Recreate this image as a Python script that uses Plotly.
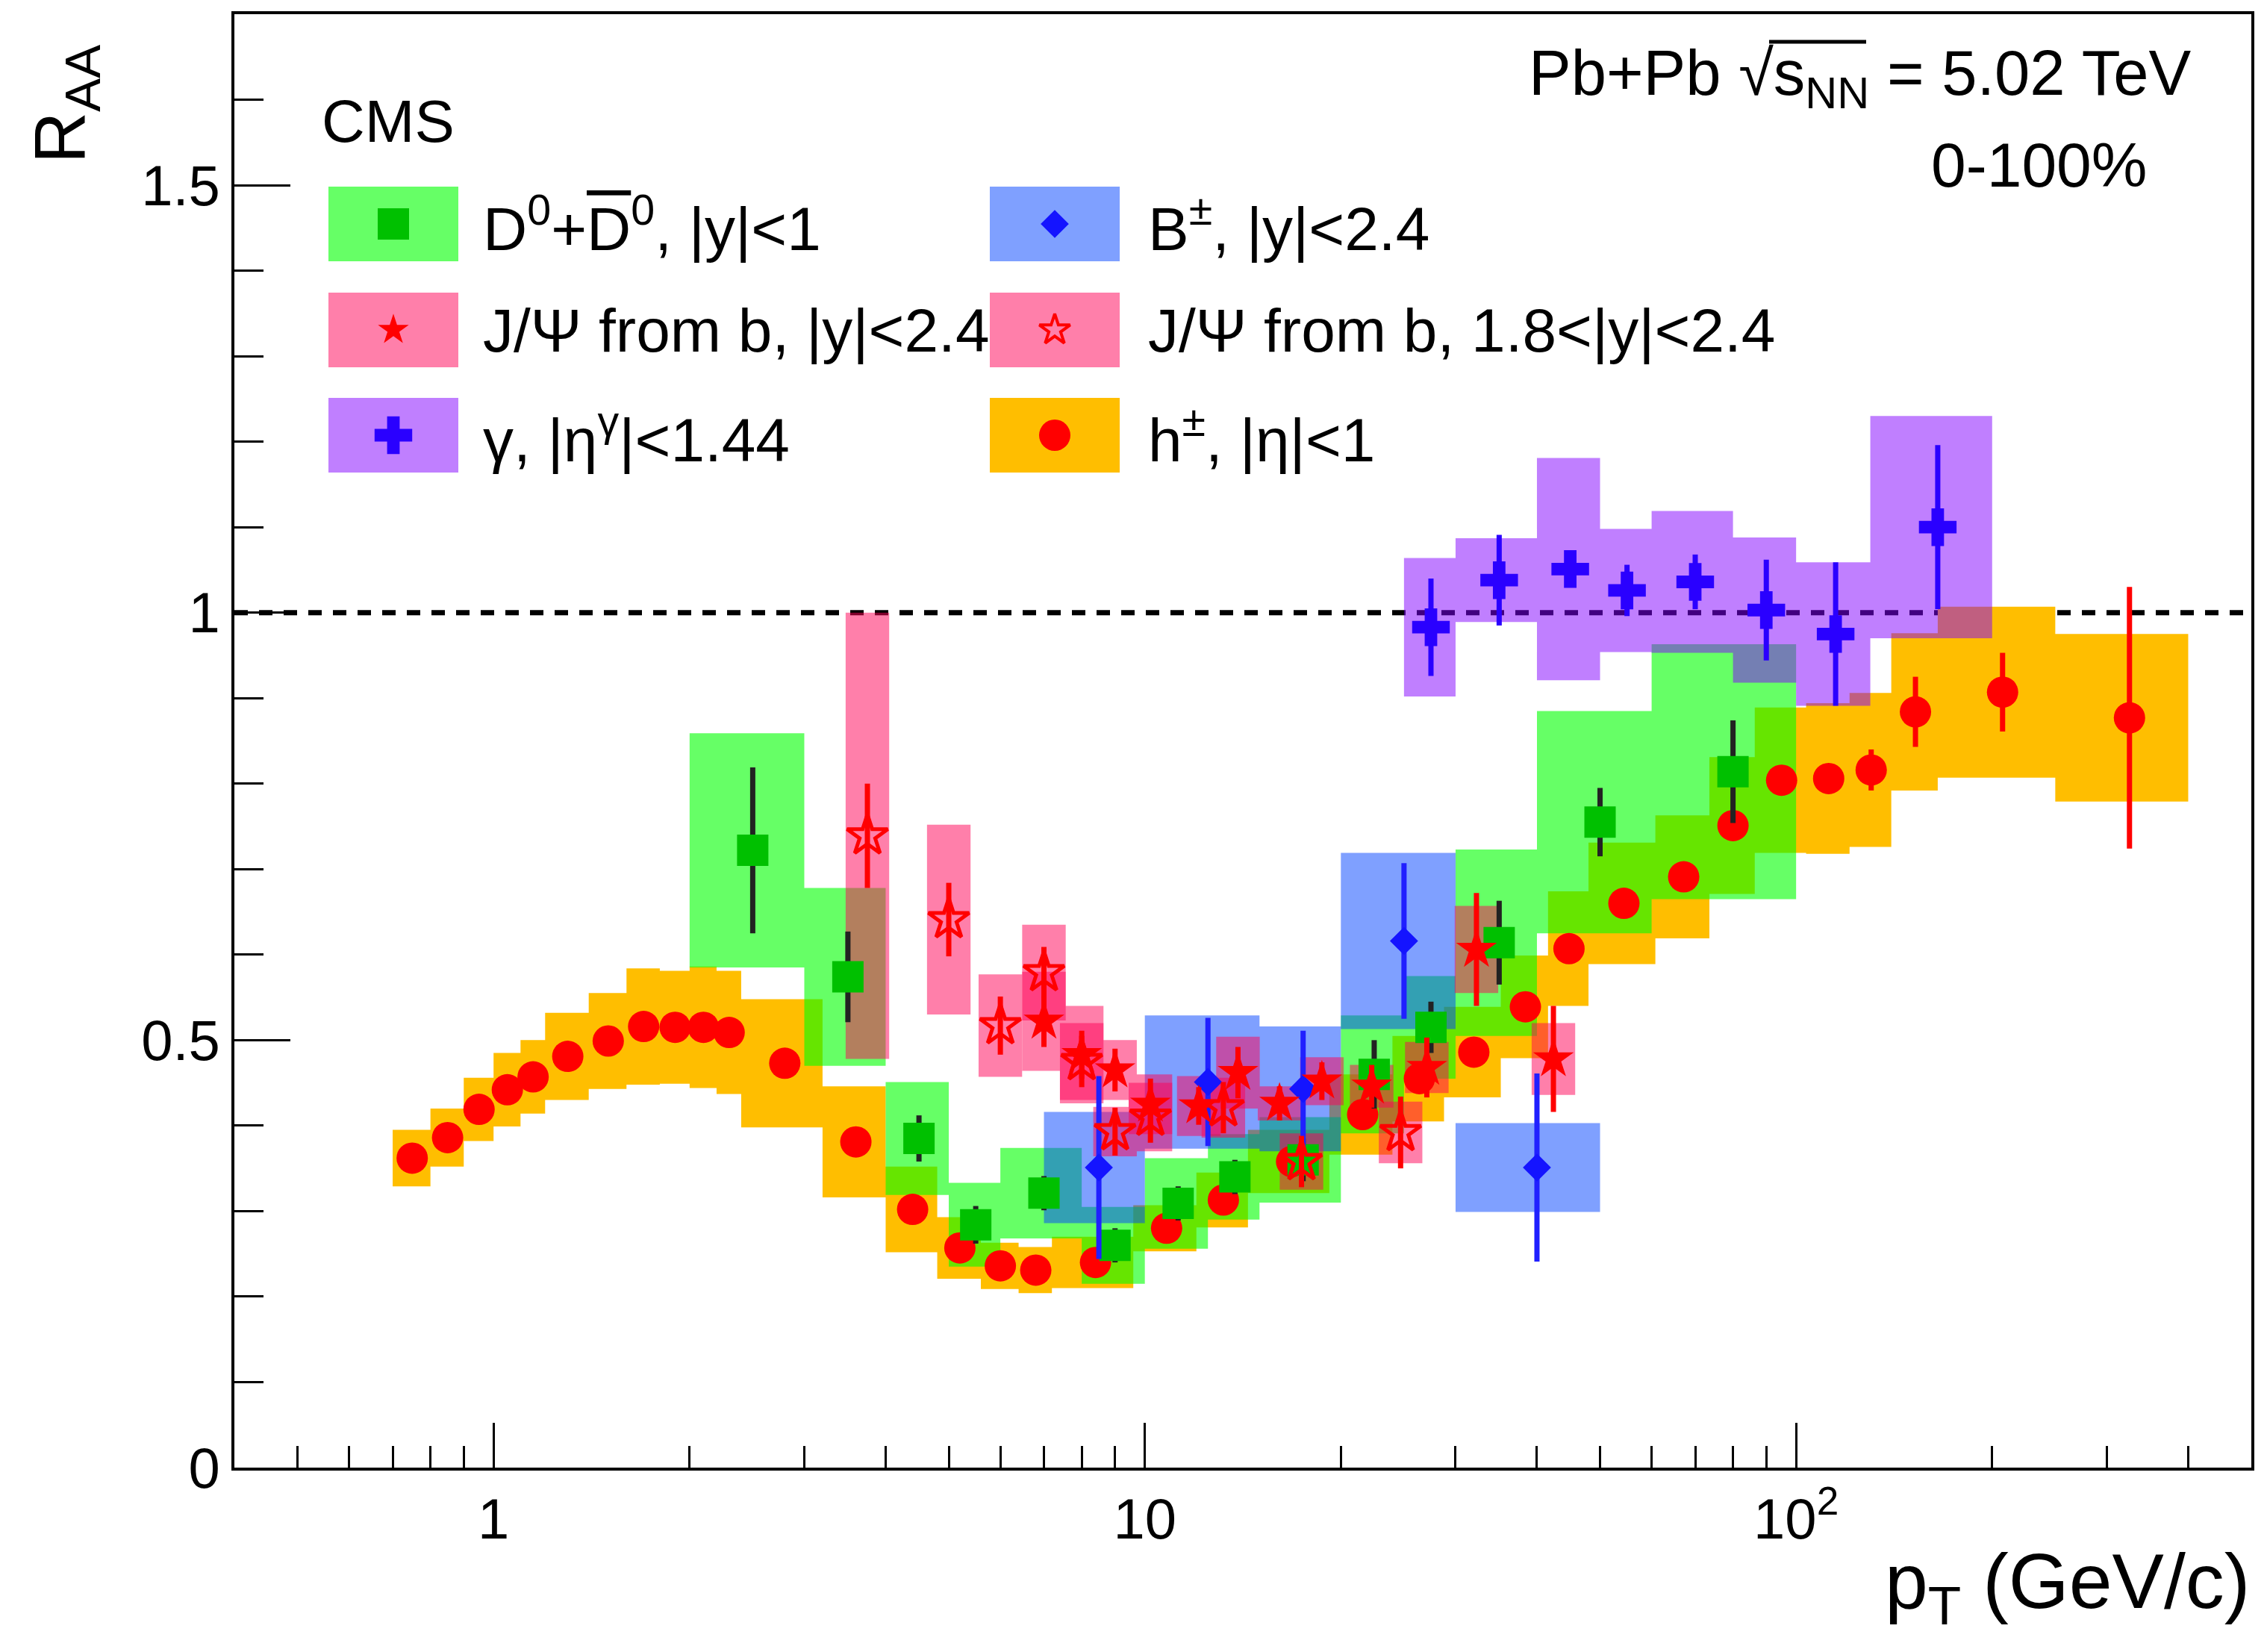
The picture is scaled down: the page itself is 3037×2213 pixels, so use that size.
import math
import plotly.graph_objects as go

# ---------------- data ----------------
# charged hadrons h+-, |eta|<1
h_edges = [0.7, 0.8, 0.9, 1.0, 1.1, 1.2, 1.4, 1.6, 1.8, 2.0, 2.2, 2.4, 3.2, 4.0, 4.8, 5.6, 6.4, 7.2,
           9.6, 12.0, 14.4, 19.2, 24.0, 28.8, 35.2, 41.6, 48.0, 60.8, 73.6, 86.4, 103.6, 120.8,
           140.0, 165.0, 250.0, 400.0]
h_pt = [0.75, 0.85, 0.95, 1.05, 1.15, 1.3, 1.5, 1.7, 1.9, 2.1, 2.3, 2.8, 3.6, 4.4, 5.2, 6.0, 6.8,
        8.4, 10.8, 13.2, 16.8, 21.6, 26.4, 32.0, 38.4, 44.8, 54.4, 67.2, 80.0, 95.0, 112.2, 130.4,
        152.5, 207.5, 325.0]
h_raa = [0.362, 0.386, 0.419, 0.442, 0.457, 0.481, 0.499, 0.516, 0.515, 0.515, 0.509, 0.473,
         0.381, 0.302, 0.257, 0.236, 0.231, 0.240, 0.280, 0.313, 0.358, 0.413, 0.455, 0.486,
         0.539, 0.607, 0.660, 0.691, 0.751, 0.804, 0.806, 0.816, 0.884, 0.907, 0.877]
h_stat = [0.002, 0.002, 0.002, 0.002, 0.002, 0.002, 0.002, 0.002, 0.002, 0.002, 0.002, 0.002,
          0.002, 0.002, 0.002, 0.002, 0.002, 0.003, 0.003, 0.003, 0.004, 0.005, 0.006, 0.007,
          0.008, 0.010, 0.010, 0.012, 0.013, 0.013, 0.015, 0.024, 0.041, 0.046, 0.153]
h_syst = [0.033, 0.034, 0.037, 0.043, 0.043, 0.051, 0.056, 0.068, 0.066, 0.071, 0.072, 0.075,
          0.065, 0.050, 0.036, 0.027, 0.027, 0.030, 0.027, 0.032, 0.037, 0.047, 0.050, 0.053,
          0.060, 0.067, 0.071, 0.072, 0.080, 0.085, 0.088, 0.090, 0.092, 0.100, 0.098]

# D0 + D0bar, |y|<1
d0_edges = [2, 3, 4, 5, 6, 8, 10, 12.5, 15, 20, 25, 30, 40, 60, 100]
d0_pt = [2.5, 3.5, 4.5, 5.5, 7.0, 9.0, 11.25, 13.75, 17.5, 22.5, 27.5, 35, 50, 80]
d0_raa = [0.722, 0.574, 0.385, 0.284, 0.321, 0.260, 0.309, 0.340, 0.360, 0.460, 0.515, 0.614,
          0.755, 0.814]
d0_stat = [0.097, 0.053, 0.027, 0.022, 0.020, 0.020, 0.020, 0.020, 0.025, 0.040, 0.030, 0.049,
           0.040, 0.060]
d0_syst = [0.137, 0.104, 0.066, 0.049, 0.053, 0.045, 0.053, 0.050, 0.050, 0.069, 0.060, 0.109,
           0.130, 0.149]

# B+-, |y|<2.4
b_edges = [7, 10, 15, 20, 30, 50]
b_pt = [8.5, 12.5, 17.5, 25, 40]
b_raa = [0.351, 0.451, 0.443, 0.616, 0.351]
b_stat = [0.107, 0.075, 0.068, 0.091, 0.110]
b_syst = [0.065, 0.078, 0.073, 0.103, 0.052]

# nonprompt J/psi, |y|<2.4
jb_pt = [7.0, 8.0, 9.0, 10.2, 12.1, 13.9, 16.1, 18.7, 22.3, 27.1, 32.3, 42.4]
jb_raa = [0.522, 0.483, 0.465, 0.425, 0.423, 0.462, 0.426, 0.452, 0.446, 0.468, 0.606, 0.478]
jb_stat = [0.030, 0.028, 0.025, 0.030, 0.022, 0.030, 0.020, 0.022, 0.025, 0.035, 0.066, 0.062]
jb_syst = [0.058, 0.057, 0.035, 0.035, 0.035, 0.042, 0.020, 0.028, 0.025, 0.030, 0.051, 0.042]

# nonprompt J/psi, 1.8<|y|<2.4
jf_pt = [3.75, 5.0, 6.0, 7.0, 8.0, 9.0, 10.2, 13.2, 17.4, 24.7]
jf_raa = [0.739, 0.641, 0.517, 0.579, 0.475, 0.393, 0.410, 0.421, 0.358, 0.392]
jf_stat = [0.061, 0.043, 0.034, 0.030, 0.030, 0.028, 0.030, 0.030, 0.030, 0.042]
jf_syst = [0.261, 0.111, 0.060, 0.056, 0.045, 0.029, 0.040, 0.035, 0.033, 0.036]

# isolated photons, |eta|<1.44
g_edges = [25, 30, 40, 50, 60, 80, 100, 130, 200]
g_pt = [27.5, 35, 45, 55, 70, 90, 115, 165]
g_raa = [0.983, 1.038, 1.051, 1.026, 1.036, 1.003, 0.975, 1.100]
g_stat = [0.057, 0.053, 0.020, 0.030, 0.032, 0.059, 0.084, 0.096]
g_syst = [0.081, 0.049, 0.130, 0.072, 0.083, 0.085, 0.084, 0.130]

# ---------------- style ----------------
FONT = "Liberation Sans, Arial, Helvetica, sans-serif"
W, H = 3037, 2213
L, R, T, B = 314, 21, 19, 247          # plot-area margins (px)
X_RANGE = (0.4, 500.0)
Y_RANGE = (0.0, 1.7)
JPSI_BOX_FACTOR = 1.08                  # J/psi syst boxes span pt/f .. pt*f
ERR_W = 7

C_ORANGE = "#FFBE00"
C_GREEN = "rgba(0,255,0,0.6)"
C_BLUE = "rgba(0,65,255,0.5)"
C_PINK = "rgba(255,0,85,0.5)"
C_PURPLE = "rgba(130,0,255,0.5)"

M_H = dict(symbol="circle", size=42, color="#FF0000")
M_D0 = dict(symbol="square", size=42, color="#00C000")
M_B = dict(symbol="diamond", size=29, color="#1414FF")
M_JB = dict(symbol="star", size=41, color="#FF0000")
M_JF = dict(symbol="star-open", size=41, color="#FF0000", line=dict(width=5, color="#FF0000"))
M_G = dict(symbol="cross", size=42, color="#2A00FF")


def box_path(lo, hi, centers, half):
    xs, ys = [], []
    for x0, x1, c, h in zip(lo, hi, centers, half):
        xs += [x0, x1, x1, x0, x0, None]
        ys += [c - h, c - h, c + h, c + h, c - h, None]
    return xs, ys


def syst_trace(lo, hi, centers, half, color):
    xs, ys = box_path(lo, hi, centers, half)
    return go.Scatter(x=xs, y=ys, mode="none", fill="toself", fillcolor=color,
                      hoverinfo="skip")


def point_trace(pt, raa, stat, marker, ecolor):
    return go.Scatter(x=pt, y=raa, mode="markers", marker=marker,
                      error_y=dict(type="data", array=stat, color=ecolor,
                                   thickness=ERR_W, width=0))


fig = go.Figure()

# systematic boxes
fig.add_trace(syst_trace(h_edges[:-1], h_edges[1:], h_raa, h_syst, C_ORANGE))
fig.add_trace(syst_trace(d0_edges[:-1], d0_edges[1:], d0_raa, d0_syst, C_GREEN))
fig.add_trace(syst_trace(b_edges[:-1], b_edges[1:], b_raa, b_syst, C_BLUE))
fig.add_trace(syst_trace([p / JPSI_BOX_FACTOR for p in jb_pt], [p * JPSI_BOX_FACTOR for p in jb_pt],
                         jb_raa, jb_syst, C_PINK))
fig.add_trace(syst_trace([p / JPSI_BOX_FACTOR for p in jf_pt], [p * JPSI_BOX_FACTOR for p in jf_pt],
                         jf_raa, jf_syst, C_PINK))
fig.add_trace(syst_trace(g_edges[:-1], g_edges[1:], g_raa, g_syst, C_PURPLE))

# points with statistical errors
fig.add_trace(point_trace(h_pt, h_raa, h_stat, M_H, "#FF0000"))
fig.add_trace(point_trace(d0_pt, d0_raa, d0_stat, M_D0, "#222222"))
fig.add_trace(point_trace(b_pt, b_raa, b_stat, M_B, "#2020FF"))
fig.add_trace(point_trace(jb_pt, jb_raa, jb_stat, M_JB, "#FF0000"))
fig.add_trace(point_trace(jf_pt, jf_raa, jf_stat, M_JF, "#FF0000"))
fig.add_trace(point_trace(g_pt, g_raa, g_stat, M_G, "#2A00FF"))

# ---------------- legend (drawn on a pixel-space overlay) ----------------
LEG_COL_X = [527, 1413]
LEG_ROW_Y = [300, 442, 583]
LEG_TEXT_X = [645, 1536]
LEG_HALF_W, LEG_HALF_H = 87, 50
legend_entries = [
    (0, 0, C_GREEN, M_D0, "D<sup>0</sup>+<span style='text-decoration:overline'>D</span><sup>0</sup>, |y|<1"),
    (1, 0, C_BLUE, M_B, "B<sup>±</sup>, |y|<2.4"),
    (0, 1, C_PINK, dict(M_JB, size=31), "J/Ψ from b, |y|<2.4"),
    (1, 1, C_PINK, dict(M_JF, size=31, line=dict(width=4, color="#FF0000")), "J/Ψ from b, 1.8<|y|<2.4"),
    (0, 2, C_PURPLE, M_G, "γ, |η<sup>γ</sup>|<1.44"),
    (1, 2, C_ORANGE, M_H, "h<sup>±</sup>, |η|<1"),
]


def paper(px, py):
    return (px - L) / (W - L - R), (H - B - py) / (H - T - B)


annotations = []
for col, row, fc, mk, label in legend_entries:
    cx, cy = LEG_COL_X[col], LEG_ROW_Y[row]
    fig.add_trace(go.Scatter(
        x=[cx - LEG_HALF_W, cx + LEG_HALF_W, cx + LEG_HALF_W, cx - LEG_HALF_W, cx - LEG_HALF_W],
        y=[cy - LEG_HALF_H, cy - LEG_HALF_H, cy + LEG_HALF_H, cy + LEG_HALF_H, cy - LEG_HALF_H],
        mode="none", fill="toself", fillcolor=fc, xaxis="x2", yaxis="y2", hoverinfo="skip"))
    fig.add_trace(go.Scatter(x=[cx], y=[cy], mode="markers", marker=mk,
                             xaxis="x2", yaxis="y2", hoverinfo="skip"))
    ax, ay = paper(LEG_TEXT_X[col], cy)
    annotations.append(dict(x=ax, y=ay, xref="paper", yref="paper", text=label,
                            showarrow=False, xanchor="left", yanchor="middle",
                            font=dict(size=82, family=FONT, color="black")))


def add_text(px, py, text, size, xanchor="left", yanchor="middle", angle=0):
    ax, ay = paper(px, py)
    annotations.append(dict(x=ax, y=ay, xref="paper", yref="paper", text=text,
                            showarrow=False, xanchor=xanchor, yanchor=yanchor,
                            textangle=angle, font=dict(size=size, family=FONT, color="black")))


add_text(429, 163, "CMS", 80)
add_text(2937, 104, "Pb+Pb √s<sub>NN</sub> = 5.02 TeV", 85, xanchor="right")
add_text(2879, 221, "0-100%", 84, xanchor="right")
add_text(88, 140, "R<sub>AA</sub>", 96, xanchor="center", angle=-90)
add_text(3016, 2125, "p<sub>T</sub> (GeV/c)", 104, xanchor="right")

sx0, sy = paper(2370, 56)
sx1, _ = paper(2500, 56)
shapes = [
    dict(type="line", xref="paper", yref="y", x0=0, x1=1, y0=1, y1=1, layer="below",
         line=dict(color="black", width=7, dash="18px,15px")),
    dict(type="line", xref="paper", yref="paper", x0=sx0, x1=sx1, y0=sy, y1=sy,
         line=dict(color="black", width=5)),
]

x_minor = [0.5, 0.6, 0.7, 0.8, 0.9, 2, 3, 4, 5, 6, 7, 8, 9, 20, 30, 40, 50, 60, 70, 80, 90,
           200, 300, 400]
TICK_FONT = dict(size=76, family=FONT, color="black")

fig.update_layout(
    width=W, height=H, autosize=False,
    margin=dict(l=L, r=R, t=T, b=B, pad=0),
    paper_bgcolor="white", plot_bgcolor="rgba(0,0,0,0)",
    showlegend=False,
    font=dict(family=FONT, color="black"),
    xaxis=dict(type="log", range=[math.log10(X_RANGE[0]), math.log10(X_RANGE[1])],
               tickmode="array", tickvals=[1, 10, 100], ticktext=["1", "10", "10<sup>2</sup>"],
               ticks="inside", ticklen=60, tickwidth=3, tickcolor="black",
               tickfont=TICK_FONT,
               showline=True, linecolor="black", linewidth=4, mirror=True,
               showgrid=False, zeroline=False,
               minor=dict(tickmode="array", tickvals=x_minor, ticks="inside", ticklen=29,
                          tickwidth=3, tickcolor="black", showgrid=False)),
    yaxis=dict(range=list(Y_RANGE), tickmode="array", tickvals=[0, 0.5, 1, 1.5],
               ticktext=["0", "0.5", "1", "1.5"],
               ticks="inside", ticklen=75, tickwidth=3, tickcolor="black",
               tickfont=TICK_FONT,
               showline=True, linecolor="black", linewidth=4, mirror=True,
               showgrid=False, zeroline=False,
               minor=dict(dtick=0.1, tick0=0, ticks="inside", ticklen=39, tickwidth=3,
                          tickcolor="black", showgrid=False)),
    xaxis2=dict(domain=[0, 1], range=[L, W - R], visible=False, anchor="y2"),
    yaxis2=dict(domain=[0, 1], range=[H - B, T], visible=False, anchor="x2"),
    annotations=annotations,
    shapes=shapes,
)

fig.write_html("out.html")
